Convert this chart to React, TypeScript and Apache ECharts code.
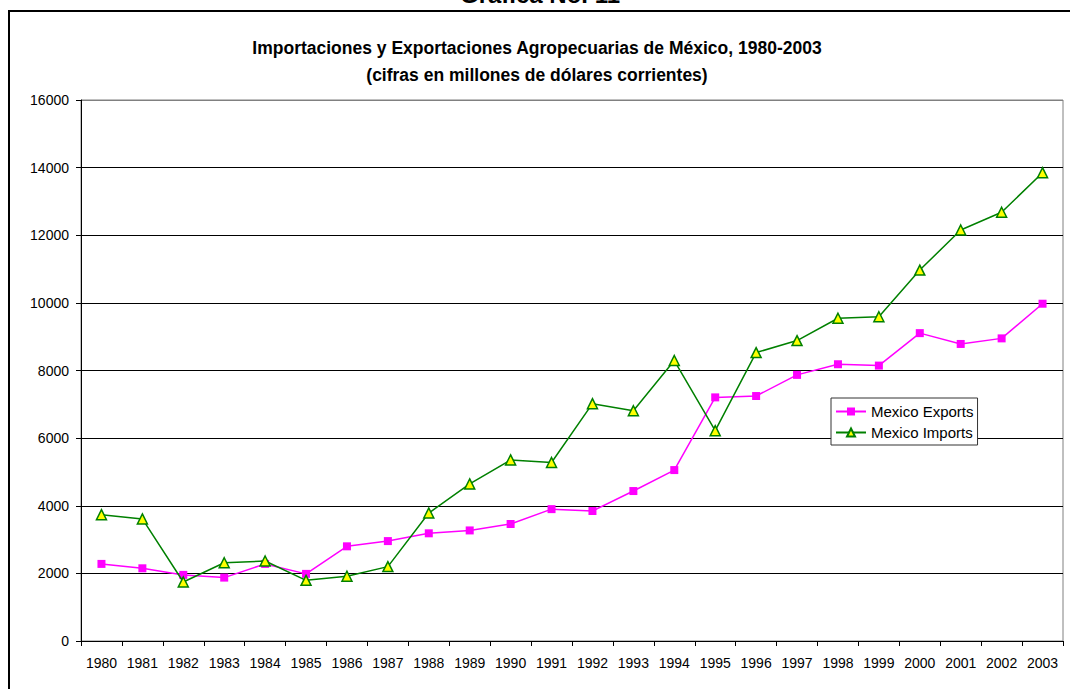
import React, { useEffect, useRef } from "react";
import * as echarts from "echarts";

const years = [
  "1980", "1981", "1982", "1983", "1984", "1985", "1986", "1987", "1988", "1989", "1990", "1991",
  "1992", "1993", "1994", "1995", "1996", "1997", "1998", "1999", "2000", "2001", "2002", "2003",
];
const mexicoExports = [
  2280, 2150, 1955, 1875, 2280, 1985, 2800, 2955, 3185, 3270, 3460, 3900,
  3845, 4435, 5055, 7205, 7245, 7870, 8185, 8145, 9105, 8785, 8950, 9975,
];
const mexicoImports = [
  3735, 3610, 1745, 2315, 2365, 1795, 1915, 2200, 3785, 4645, 5355, 5280,
  7020, 6810, 8295, 6220, 8530, 8885, 9545, 9590, 10970, 12155, 12680, 13850,
];
const yMin = 0;
const yMax = 16000;
const yStep = 2000;

const FONT = '"Liberation Sans", Arial, Helvetica, sans-serif';

export default function App() {
  const ref = useRef<HTMLDivElement>(null);
  useEffect(() => {
    if (!ref.current) return;
    const chart = echarts.init(ref.current, undefined, { renderer: "svg" });
    const splitColors = ["#000", "#000", "#000", "#000", "#000", "#000", "#000", "#000", "#808080"];
    chart.setOption({
      animation: false,
      backgroundColor: "#fff",
      textStyle: { fontFamily: FONT },
      title: {
        text: "Importaciones y Exportaciones Agropecuarias de México, 1980-2003\n(cifras en millones de dólares corrientes)",
        left: 532,
        top: 29,
        textAlign: "center",
        textStyle: { fontFamily: FONT, fontSize: 17.5, fontWeight: "bold", color: "#000", lineHeight: 27 },
      },
      graphic: [
        {
          type: "rect",
          z: -1,
          shape: { x: 9, y: 11, width: 1100, height: 700 },
          style: { fill: "none", stroke: "#000", lineWidth: 2 },
          silent: true,
        },
        {
          type: "text",
          x: 540,
          y: 6,
          style: {
            text: "Gráfica No. 11",
            font: `bold 24px ${FONT}`,
            fill: "#000",
            align: "center",
            verticalAlign: "bottom",
          },
          silent: true,
        },
      ],
      grid: {
        left: 81,
        top: 100,
        right: 7,
        bottom: 48,
        show: true,
        borderColor: "#808080",
        borderWidth: 1,
        backgroundColor: "transparent",
      },
      legend: {
        orient: "vertical",
        left: 831,
        top: 398,
        padding: [6, 4, 5, 4],
        itemGap: 6,
        itemWidth: 30,
        itemHeight: 10,
        backgroundColor: "#fff",
        borderColor: "#333",
        borderWidth: 1,
        textStyle: { fontFamily: FONT, fontSize: 15, color: "#000" },
        data: ["Mexico Exports", "Mexico Imports"],
      },
      xAxis: {
        type: "category",
        data: years,
        boundaryGap: true,
        axisLine: { lineStyle: { color: "#000", width: 1 } },
        axisTick: { show: true, length: 5, interval: 0, lineStyle: { color: "#000" } },
        axisLabel: { interval: 0, margin: 15, fontSize: 14, color: "#000", fontFamily: FONT },
        splitLine: { show: false },
      },
      yAxis: {
        type: "value",
        min: yMin,
        max: yMax,
        interval: yStep,
        axisLine: { show: true, lineStyle: { color: "#000", width: 1 } },
        axisTick: { show: true, length: 5, lineStyle: { color: "#000" } },
        axisLabel: {
          margin: 12,
          fontSize: 14,
          color: "#000",
          fontFamily: FONT,
          formatter: (v: number) => String(v),
        },
        splitLine: { show: true, lineStyle: { color: splitColors, width: 1 } },
      },
      series: [
        {
          name: "Mexico Exports",
          type: "line",
          data: mexicoExports,
          symbol: "rect",
          symbolSize: 8,
          lineStyle: { color: "#FF00FF", width: 1.5 },
          itemStyle: { color: "#FF00FF", borderColor: "#FF00FF", borderWidth: 0 },
          z: 3,
        },
        {
          name: "Mexico Imports",
          type: "line",
          data: mexicoImports,
          symbol: "triangle",
          symbolSize: 10,
          lineStyle: { color: "#008000", width: 1.5 },
          itemStyle: { color: "#FFFF00", borderColor: "#008000", borderWidth: 1.5 },
          z: 4,
        },
      ],
    });
    return () => chart.dispose();
  }, []);
  return (
    <div
      ref={ref}
      style={{ position: "fixed", left: 0, top: 0, width: 1070, height: 689 }}
    />
  );
}
